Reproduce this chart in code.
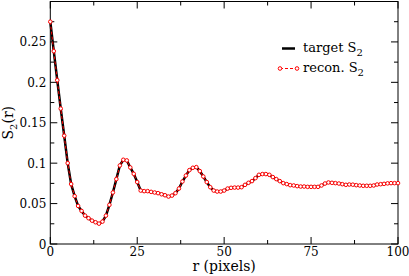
<!DOCTYPE html>
<html>
<head>
<meta charset="utf-8">
<script src="https://cdn.jsdelivr.net/npm/d3@7"></script>
<style>
  html, body { margin: 0; padding: 0; background: #fff; }
  svg { display: block; }
</style>
</head>
<body>
<div id="svg-container"></div>
<script>
////////////////////////////////////////////////////////////////////
////////////////////////////  Data  ////////////////////////////////
// r = 0..100 pixels
const rValues = d3.range(0, 101);

const targetS2 = [
  0.275, 0.2386, 0.2026, 0.1675, 0.134, 0.1001, 0.0741, 0.0592, 0.0471, 0.0409,
  0.0351, 0.0319, 0.0289, 0.0269, 0.0252, 0.0277, 0.0351, 0.0484, 0.0637, 0.0803,
  0.0971, 0.1042, 0.1034, 0.0947, 0.0868, 0.0766, 0.0661, 0.0654, 0.0654, 0.0645,
  0.0637, 0.0629, 0.0615, 0.0603, 0.0587, 0.0599, 0.0629, 0.0686, 0.0773, 0.0847,
  0.0914, 0.0943, 0.0951, 0.0902, 0.0835, 0.0766, 0.0703, 0.0661, 0.0649, 0.0649,
  0.0661, 0.0686, 0.0695, 0.0698, 0.0698, 0.0703, 0.0732, 0.0757, 0.0778, 0.0815,
  0.0856, 0.0865, 0.0865, 0.0856, 0.0828, 0.0803, 0.0778, 0.0753, 0.0741, 0.0728,
  0.0724, 0.0716, 0.0711, 0.0711, 0.0707, 0.0707, 0.0707, 0.0707, 0.0724, 0.0748,
  0.0761, 0.0757, 0.0753, 0.0748, 0.074, 0.0732, 0.0736, 0.0734, 0.0728, 0.0724,
  0.072, 0.072, 0.072, 0.0724, 0.0736, 0.074, 0.0744, 0.075, 0.0753, 0.0753,
  0.0753
];

const reconS2 = [
  0.275, 0.2386, 0.2026, 0.1675, 0.134, 0.1001, 0.0741, 0.0592, 0.0471, 0.0409,
  0.0351, 0.0319, 0.0289, 0.0269, 0.0252, 0.0277, 0.0351, 0.0484, 0.0637, 0.0803,
  0.0971, 0.1042, 0.1034, 0.0947, 0.0868, 0.0766, 0.0661, 0.0654, 0.0654, 0.0645,
  0.0637, 0.0629, 0.0615, 0.0603, 0.0587, 0.0599, 0.0629, 0.0686, 0.0773, 0.0847,
  0.0914, 0.0943, 0.0951, 0.0902, 0.0835, 0.0766, 0.0703, 0.0661, 0.0649, 0.0649,
  0.0661, 0.0686, 0.0695, 0.0698, 0.0698, 0.0703, 0.0732, 0.0757, 0.0778, 0.0815,
  0.0856, 0.0865, 0.0865, 0.0856, 0.0828, 0.0803, 0.0778, 0.0753, 0.0741, 0.0728,
  0.0724, 0.0716, 0.0711, 0.0711, 0.0707, 0.0707, 0.0707, 0.0707, 0.0724, 0.0748,
  0.0761, 0.0757, 0.0753, 0.0748, 0.074, 0.0732, 0.0736, 0.0734, 0.0728, 0.0724,
  0.072, 0.072, 0.072, 0.0724, 0.0736, 0.074, 0.0744, 0.075, 0.0753, 0.0753,
  0.0753
];

const xTicks = [0, 25, 50, 75, 100];
const xMinor = [12.5, 37.5, 62.5, 87.5];
const yTicks = [0, 0.05, 0.1, 0.15, 0.2, 0.25];
const yMinor = [0.025, 0.075, 0.125, 0.175, 0.225, 0.275];
const yTickLabels = ["0", "0.05", "0.1", "0.15", "0.2", "0.25"];

////////////////////////////////////////////////////////////////////
////////////////////////////  Init  ////////////////////////////////
const width = 409;
const height = 276;
const margin = { top: 1.5, right: 11, bottom: 32, left: 50.3 };
const serif = "DejaVu Serif";

const svg = d3
  .select("#svg-container")
  .append("svg")
  .attr("width", width)
  .attr("height", height)
  .style("font-family", serif);

// scale
const x = d3
  .scaleLinear()
  .domain([0, 100])
  .range([margin.left, width - margin.right]);
const y = d3
  .scaleLinear()
  .domain([0, 0.3])
  .range([height - margin.bottom, margin.top]);

const majorLen = 7;
const minorLen = 4;

// frame
svg
  .append("rect")
  .attr("x", x(0))
  .attr("y", y(0.3))
  .attr("width", x(100) - x(0))
  .attr("height", y(0) - y(0.3))
  .attr("fill", "none")
  .attr("stroke", "#000")
  .attr("stroke-width", 1);

// ticks (inward, on all four sides)
const tickG = svg.append("g").attr("stroke", "#000").attr("stroke-width", 1);

const addXTicks = (vals, len) => {
  vals.forEach((v) => {
    tickG.append("line")
      .attr("x1", x(v)).attr("x2", x(v))
      .attr("y1", y(0)).attr("y2", y(0) - len);
    tickG.append("line")
      .attr("x1", x(v)).attr("x2", x(v))
      .attr("y1", y(0.3)).attr("y2", y(0.3) + len);
  });
};
const addYTicks = (vals, len) => {
  vals.forEach((v) => {
    tickG.append("line")
      .attr("x1", x(0)).attr("x2", x(0) + len)
      .attr("y1", y(v)).attr("y2", y(v));
    tickG.append("line")
      .attr("x1", x(100)).attr("x2", x(100) - len)
      .attr("y1", y(v)).attr("y2", y(v));
  });
};
addXTicks(xTicks, majorLen);
addXTicks(xMinor, minorLen);
addYTicks(yTicks, majorLen);
addYTicks(yMinor, minorLen);

// tick labels
svg
  .selectAll(".xlabel")
  .data(xTicks)
  .enter()
  .append("text")
  .attr("class", "xlabel")
  .attr("x", (d) => x(d))
  .attr("y", y(0) + 12)
  .attr("text-anchor", "middle")
  .style("font-size", "12px")
  .text((d) => d);

svg
  .selectAll(".ylabel")
  .data(yTicks)
  .enter()
  .append("text")
  .attr("class", "ylabel")
  .attr("x", x(0) - 4)
  .attr("y", (d) => y(d) + 4.5)
  .attr("text-anchor", "end")
  .style("font-size", "12px")
  .text((d, i) => yTickLabels[i]);

// axis titles
svg
  .append("text")
  .attr("x", (x(0) + x(100)) / 2)
  .attr("y", 271)
  .attr("text-anchor", "middle")
  .style("font-size", "14px")
  .text("r (pixels)");

const yTitle = svg
  .append("text")
  .attr("transform", `translate(13, ${(y(0) + y(0.3)) / 2}) rotate(-90)`)
  .attr("text-anchor", "middle")
  .style("font-size", "14px");
yTitle.append("tspan").text("S");
yTitle.append("tspan").attr("dy", 4).style("font-size", "10px").text("2");
yTitle.append("tspan").attr("dy", -4).text("(r)");

////////////////////////////////////////////////////////////////////
////////////////////////////  Lines  ///////////////////////////////
const line = d3
  .line()
  .x((d, i) => x(rValues[i]))
  .y((d) => y(d));

svg
  .append("path")
  .datum(targetS2)
  .attr("d", line)
  .attr("fill", "none")
  .attr("stroke", "#000")
  .attr("stroke-width", 2.5);

svg
  .append("path")
  .datum(reconS2)
  .attr("d", line)
  .attr("fill", "none")
  .attr("stroke", "#ff0000")
  .attr("stroke-width", 1)
  .attr("stroke-dasharray", "3,2");

svg
  .selectAll(".recon-pt")
  .data(reconS2)
  .enter()
  .append("circle")
  .attr("class", "recon-pt")
  .attr("cx", (d, i) => x(rValues[i]))
  .attr("cy", (d) => y(d))
  .attr("r", 1.8)
  .attr("fill", "#fff")
  .attr("stroke", "#ff0000")
  .attr("stroke-width", 1);

////////////////////////////////////////////////////////////////////
////////////////////////////  Legend  //////////////////////////////
const legend = svg.append("g");

legend.append("line")
  .attr("x1", 282).attr("x2", 295)
  .attr("y1", 48.5).attr("y2", 48.5)
  .attr("stroke", "#000")
  .attr("stroke-width", 2.5);

legend.append("line")
  .attr("x1", 280).attr("x2", 297)
  .attr("y1", 68.5).attr("y2", 68.5)
  .attr("stroke", "#ff0000")
  .attr("stroke-width", 1)
  .attr("stroke-dasharray", "3,2");
legend.selectAll(".leg-pt")
  .data([280, 297])
  .enter()
  .append("circle")
  .attr("cx", (d) => d)
  .attr("cy", 68.5)
  .attr("r", 1.8)
  .attr("fill", "#fff")
  .attr("stroke", "#ff0000");

const legText = (label, ty) => {
  const t = legend.append("text")
    .attr("x", 303)
    .attr("y", ty)
    .style("font-size", "13px");
  t.append("tspan").text(label + " S");
  t.append("tspan").attr("dy", 4).style("font-size", "10px").text("2");
};
legText("target", 52);
legText("recon.", 72);
</script>
</body>
</html>
